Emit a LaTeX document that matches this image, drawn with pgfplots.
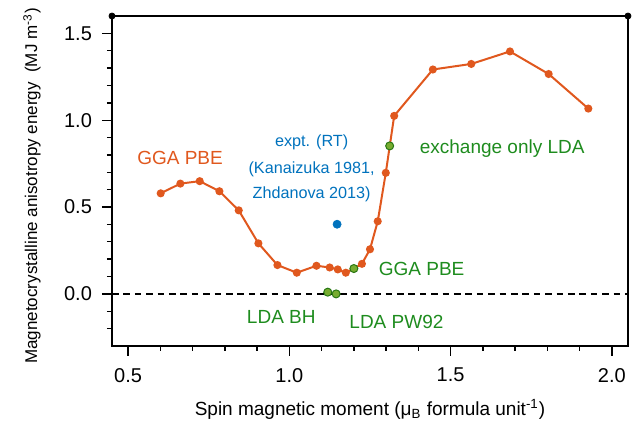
\documentclass[border=0pt]{standalone}
\usepackage{pgfplots}
\pgfplotsset{compat=1.18}
\usepackage{fontspec}
\setmainfont{Liberation Sans}
\definecolor{cor}{RGB}{224,88,30}
\definecolor{cblue}{RGB}{0,114,189}
\definecolor{cgtext}{RGB}{30,140,30}
\definecolor{cgfill}{RGB}{119,172,48}
\definecolor{cgedge}{RGB}{40,120,20}
\newcommand\ann{\fontsize{9.5}{11}\selectfont}
\newcommand\annsmall{\fontsize{8.1}{10}\selectfont}
\begin{document}
\begin{tikzpicture}
\path[use as bounding box] (-56pt,-41pt) rectangle (263.5pt,173pt);
\begin{axis}[at={(0,0)}, anchor=south west, scale only axis,
  width=258pt, height=165pt,
  xmin=0.45, xmax=2.05, ymin=-0.3, ymax=1.6,
  xtick={0.5,1.0,1.5,2.0}, ytick={0,0.5,1.0,1.5},
  minor xtick={0.6,0.7,0.8,0.9,1.1,1.2,1.3,1.4,1.6,1.7,1.8,1.9},
  minor ytick={-0.2,-0.1,0.1,0.2,0.3,0.4,0.6,0.7,0.8,0.9,1.1,1.2,1.3,1.4},
  tick align=outside, xtick pos=lower, ytick pos=left,
  major tick length=5pt, minor tick length=2.5pt,
  tick style={black, line width=0.7pt},
  axis line style={line width=0.75pt},
  /pgf/number format/assume math mode=true,
  ticklabel style={font=\fontsize{10}{12}\selectfont},
  xticklabel style={yshift=-2.5pt, /pgf/number format/.cd, fixed, fixed zerofill, precision=1},
  yticklabel style={xshift=-1.5pt, /pgf/number format/.cd, fixed, fixed zerofill, precision=1},
  xlabel={Spin magnetic moment (μ\textsubscript{B} formula unit\textsuperscript{-1})},
  ylabel={Magnetocrystalline anisotropy energy\ \ (MJ m\textsuperscript{-3})},
  xlabel style={font=\fontsize{9.5}{11}\selectfont, at={(axis description cs:0.5,-0.2121)}, anchor=base},
  ylabel style={font=\fontsize{8.5}{10}\selectfont, at={(axis description cs:-0.145,0.485)}, anchor=base, rotate=0},
  clip=false,
]
\addplot[black, line width=0.65pt, dash pattern=on 3.3pt off 2.4pt] coordinates {(0.45,0) (2.05,0)};
\addplot[cor, line width=1pt, mark=*, mark size=1.5pt, mark options={solid, fill=cor, draw=cor}] coordinates {
(0.601,0.579) (0.662,0.635) (0.722,0.649) (0.783,0.591) (0.843,0.481) (0.904,0.291)
(0.963,0.166) (1.023,0.122) (1.084,0.162) (1.125,0.152) (1.150,0.141) (1.175,0.122)
(1.200,0.146) (1.225,0.173) (1.250,0.257) (1.274,0.418) (1.299,0.697) (1.325,1.025)
(1.445,1.292) (1.564,1.324) (1.684,1.396) (1.804,1.266) (1.927,1.067)};
\addplot[only marks, mark=*, mark size=2pt, mark options={fill=cgfill, draw=cgedge, line width=0.5pt}] coordinates {
(1.119,0.010) (1.145,0.0) (1.200,0.146) (1.311,0.852)};
\addplot[only marks, mark=*, mark size=2pt, mark options={fill=cblue, draw=cblue}] coordinates {(1.148,0.401)};
\addplot[only marks, mark=*, mark size=1.5pt, black] coordinates {(0.45,1.6) (2.05,1.6)};
\node[text=cor, font=\ann] at (axis cs:0.661,0.782) {GGA PBE};
\node[text=cblue, font=\annsmall, anchor=base] at (axis cs:1.069,0.849) {expt. (RT)};
\node[text=cblue, font=\annsmall, anchor=base] at (axis cs:1.069,0.695) {(Kanaizuka 1981,};
\node[text=cblue, font=\annsmall, anchor=base] at (axis cs:1.069,0.552) {Zhdanova 2013)};
\node[text=cgtext, font=\ann] at (axis cs:1.660,0.836) {exchange only LDA};
\node[text=cgtext, font=\ann] at (axis cs:1.410,0.141) {GGA PBE};
\node[text=cgtext, font=\ann] at (axis cs:0.975,-0.133) {LDA BH};
\node[text=cgtext, font=\ann] at (axis cs:1.332,-0.164) {LDA PW92};
\end{axis}
\end{tikzpicture}
\end{document}
